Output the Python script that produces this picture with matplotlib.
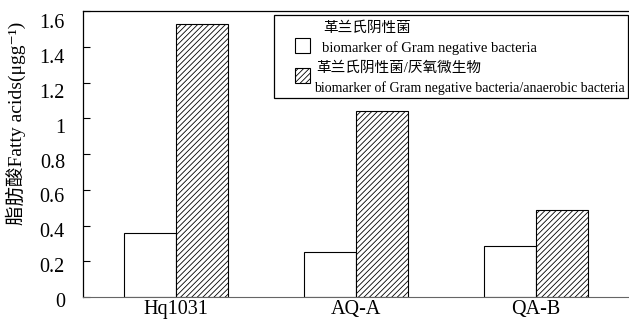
import numpy as np
import matplotlib
matplotlib.use("Agg")
from matplotlib import pyplot as plt
from matplotlib.patches import Rectangle
from matplotlib.transforms import ScaledTranslation

plt.rcParams['font.family'] = ['Liberation Serif', 'Noto Sans CJK SC', 'DejaVu Serif']
plt.rcParams['hatch.linewidth'] = 0.6

# data
sites = ["Hq1031", "AQ-A", "QA-B"]
gram_neg = [0.36, 0.25, 0.285]
gram_neg_anaerobic = [1.53, 1.04, 0.485]
yticks = [0, 0.2, 0.4, 0.6, 0.8, 1.0, 1.2, 1.4, 1.6]

W, H = 629, 321
fig = plt.figure(figsize=(W / 100, H / 100), dpi=100)

def fx(px):
    return px / W

def fy(py):
    return 1 - py / H

ax = fig.add_axes([fx(83), fy(297), 1 - fx(83), fy(11) - fy(297)])

x = np.arange(len(sites))
bw = 0.29
ax.bar(x - bw / 2, gram_neg, bw, color="white", edgecolor="black", linewidth=0.8)
ax.bar(x + bw / 2, gram_neg_anaerobic, bw, color="white", edgecolor="black",
       linewidth=0.8, hatch="//////")

ax.set_xlim(-0.517, 2.517)
ax.set_ylim(0, 1.6)
ax.set_yticks(yticks)
ax.set_yticklabels(["%g" % v for v in yticks], fontsize=14.5)
ax.set_xticks(x)
ax.set_xticklabels(sites, fontsize=14.5)
ax.tick_params(axis="x", length=0, pad=2)
ax.tick_params(axis="y", direction="in", length=5, width=0.8, pad=13)
ax.spines["right"].set_visible(False)
ax.spines["bottom"].set_color("#666666")
for s in ["left", "top"]:
    ax.spines[s].set_linewidth(0.9)

# labels sit a little below their ticks, more so towards the top
for v, lab in zip(yticks, ax.get_yticklabels()):
    dy = (3 + 7 * v / 1.6) / 100
    lab.set_transform(lab.get_transform() + ScaledTranslation(0, -dy, fig.dpi_scale_trans))

fig.text(fx(16), fy(123), "脂肪酸Fatty acids(μgg⁻¹)", rotation=90,
         ha="center", va="center", fontsize=14)

# legend box drawn by hand
fig.add_artist(Rectangle((fx(274), fy(98)), fx(628) - fx(274), fy(15) - fy(98),
                         transform=fig.transFigure, facecolor="white",
                         edgecolor="black", linewidth=0.9))
fig.add_artist(Rectangle((fx(295), fy(53)), fx(15), fy(38) - fy(53),
                         transform=fig.transFigure, facecolor="white",
                         edgecolor="black", linewidth=0.8))
fig.add_artist(Rectangle((fx(295), fy(83)), fx(15), fy(68) - fy(83),
                         transform=fig.transFigure, facecolor="white",
                         edgecolor="black", linewidth=0.8, hatch="//////"))
fig.text(fx(323), fy(28), "革兰氏阴性菌", ha="left", va="center", fontsize=10.5)
fig.text(fx(322), fy(48), "biomarker of Gram negative bacteria",
         ha="left", va="center", fontsize=10.5)
fig.text(fx(316), fy(68), "革兰氏阴性菌/厌氧微生物", ha="left", va="center", fontsize=10.5)
fig.text(fx(314), fy(88), "biomarker of Gram negative bacteria/anaerobic bacteria",
         ha="left", va="center", fontsize=10)

fig.savefig("out.png", dpi=100)
